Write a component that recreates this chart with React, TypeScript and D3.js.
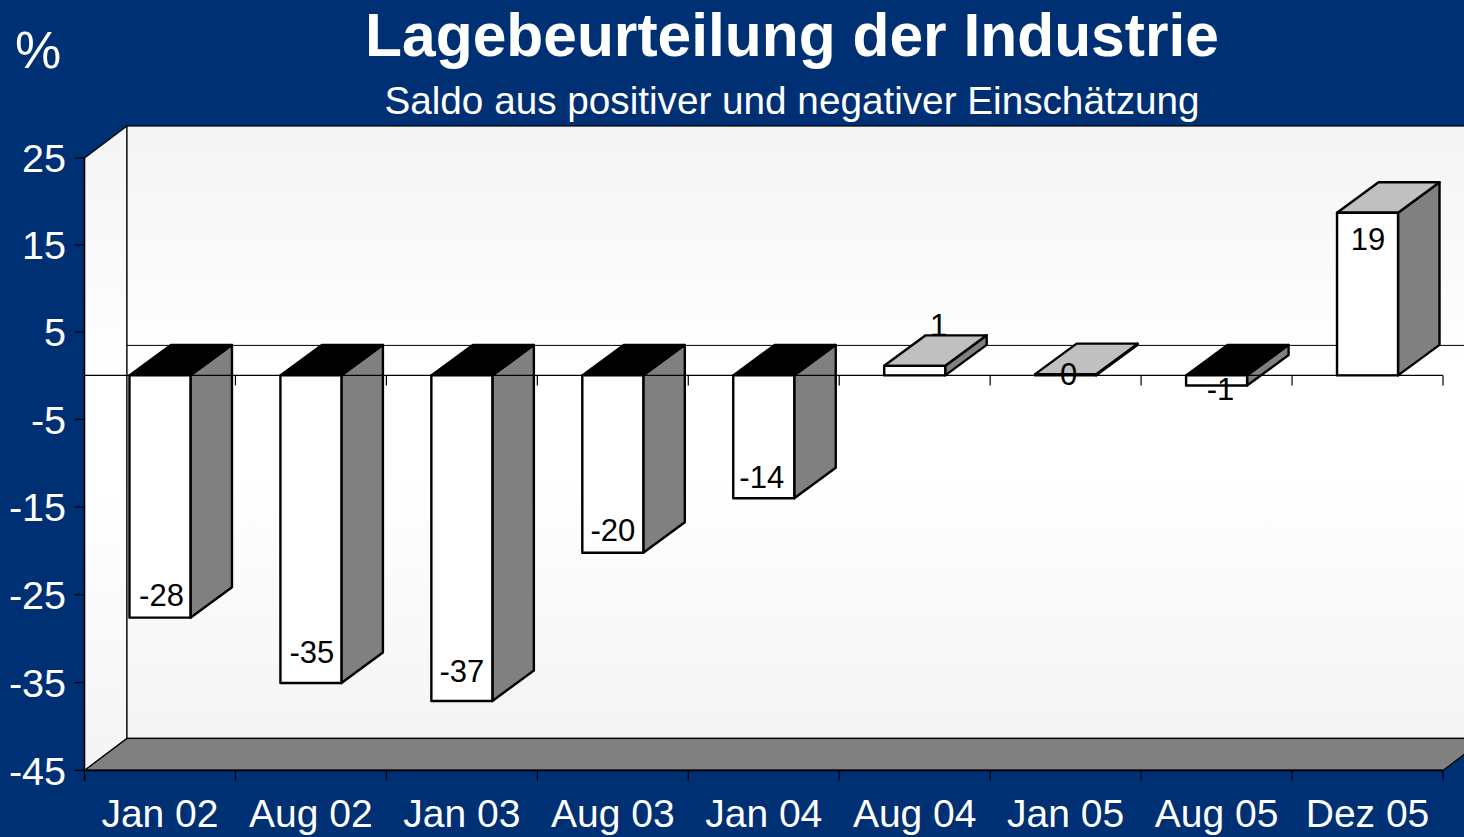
import React from "react";
import * as d3 from "d3";

const categories = ["Jan 02", "Aug 02", "Jan 03", "Aug 03", "Jan 04", "Aug 04", "Jan 05", "Aug 05", "Dez 05"];
const values = [-27.6, -35.05, -37.1, -20.2, -14, 1.1, 0.15, -1.15, 18.7];
const valueLabels = ["-28", "-35", "-37", "-20", "-14", "1", "0", "-1", "19"];
const yTicks = [25, 15, 5, -5, -15, -25, -35, -45];

const width = 1464;
const height = 837;
const font = "'Liberation Sans', Arial, sans-serif";
const navy = "#003074";

// label nudges relative to the bar, the original chart placed these a bit unevenly
const labelDx = [1.5, 1, 0, 0, -2, 24, 3, 4, 0.5];
const labelDy = [-23, -31, -30, -23, -21, -41, 0, 3, 26];

const y = d3.scaleLinear().domain([-45, 0, 25]).range([770.4, 375.4, 158]);
const x = d3.scaleBand().domain(categories).range([84.5, 1443]);

const wallDx = 42.5;
const wallDy = -32;
const barDx = 41.5;
const barDy = -30.5;
const barWidth = 61;

const pts = (p: number[][]) => p.map((d) => d.join(",")).join(" ");

export default function App() {
  const left = x.range()[0];
  const right = x.range()[1];
  const floorY = y(-45);
  const topY = y(25);
  const zero = y(0);
  const edges = [...categories.map((c) => x(c) as number), right];

  return (
    <div style={{ position: "fixed", left: 0, top: 0, width, height, overflow: "hidden", background: navy }}>
      <svg width={width} height={height} style={{ display: "block" }} fontFamily={font}>
        <defs>
          <linearGradient id="wall" x1="0" y1="0" x2="0" y2="1">
            <stop offset="0%" stopColor="#f4f4f4" />
            <stop offset="40%" stopColor="#ffffff" />
            <stop offset="56%" stopColor="#ffffff" />
            <stop offset="100%" stopColor="#f4f4f4" />
          </linearGradient>
        </defs>

        <rect width={width} height={height} fill={navy} />

        {/* walls */}
        <polygon
          points={pts([[left, topY], [left + wallDx, topY + wallDy], [left + wallDx, floorY + wallDy], [left, floorY]])}
          fill="url(#wall)"
          stroke="#000"
          strokeWidth={1.2}
        />
        <rect
          x={left + wallDx}
          y={topY + wallDy}
          width={right - left + 10}
          height={floorY - topY}
          fill="url(#wall)"
          stroke="#000"
          strokeWidth={1.2}
        />
        <polygon
          points={pts([[left, floorY], [left + wallDx, floorY + wallDy], [right + wallDx, floorY + wallDy], [right, floorY]])}
          fill="#808080"
          stroke="#000"
          strokeWidth={1.2}
        />
        <line x1={left + wallDx} x2={width} y1={zero + wallDy + 2} y2={zero + wallDy + 2} stroke="#000" strokeWidth={1} />

        {/* bars */}
        {categories.map((c, i) => {
          const v = values[i];
          const x0 = (x(c) as number) + (x.bandwidth() - barWidth) / 2;
          const x1 = x0 + barWidth;
          const yTop = y(Math.max(v, 0));
          const yBot = y(Math.min(v, 0));
          return (
            <g key={c} stroke="#000" strokeWidth={2.4} strokeLinejoin="round">
              <polygon
                points={pts([[x1, yTop], [x1 + barDx, yTop + barDy], [x1 + barDx, yBot + barDy], [x1, yBot]])}
                fill="#808080"
              />
              <polygon
                points={pts([[x0, yTop], [x0 + barDx, yTop + barDy], [x1 + barDx, yTop + barDy], [x1, yTop]])}
                fill={v < 0 ? "#000" : "#c0c0c0"}
              />
              <rect x={x0} y={yTop} width={barWidth} height={yBot - yTop} fill="#fff" />
            </g>
          );
        })}

        {/* front axis lines and ticks */}
        <line x1={left} x2={right} y1={zero} y2={zero} stroke="#000" strokeWidth={1.2} />
        <line x1={left} x2={right} y1={floorY} y2={floorY} stroke="#000" strokeWidth={1.6} />
        <line x1={left} x2={left} y1={topY} y2={floorY + 10} stroke="#000" strokeWidth={1.4} />
        {edges.map((e, i) => (
          <g key={i} stroke="#000" strokeWidth={1.2}>
            {i > 0 && <line x1={e} x2={e} y1={zero} y2={zero + 10} />}
            <line x1={e} x2={e} y1={floorY} y2={floorY + 10} />
          </g>
        ))}
        {yTicks.map((t) => (
          <g key={t}>
            <line x1={left - 10} x2={left} y1={y(t)} y2={y(t)} stroke="#000" strokeWidth={1.2} />
            <text x={66} y={y(t)} dy="0.36em" textAnchor="end" fontSize={39.5} fill="#fff">
              {t}
            </text>
          </g>
        ))}

        {/* value labels */}
        {categories.map((c, i) => {
          const v = values[i];
          const cx = (x(c) as number) + x.bandwidth() / 2 + labelDx[i];
          return (
            <text key={c} x={cx} y={y(v) + labelDy[i]} dy="0.36em" textAnchor="middle" fontSize={31} fill="#000">
              {valueLabels[i]}
            </text>
          );
        })}

        {/* category labels */}
        {categories.map((c) => (
          <text
            key={c}
            x={(x(c) as number) + x.bandwidth() / 2}
            y={827}
            textAnchor="middle"
            fontSize={39}
            fill="#fff"
          >
            {c}
          </text>
        ))}

        <text x={792} y={56} textAnchor="middle" fontSize={60.5} fontWeight="bold" fill="#fff">
          Lagebeurteilung der Industrie
        </text>
        <text x={792} y={114} textAnchor="middle" fontSize={38.7} fill="#fff">
          Saldo aus positiver und negativer Einschätzung
        </text>
        <text x={15} y={68} fontSize={52} fill="#fff">
          %
        </text>
      </svg>
    </div>
  );
}
